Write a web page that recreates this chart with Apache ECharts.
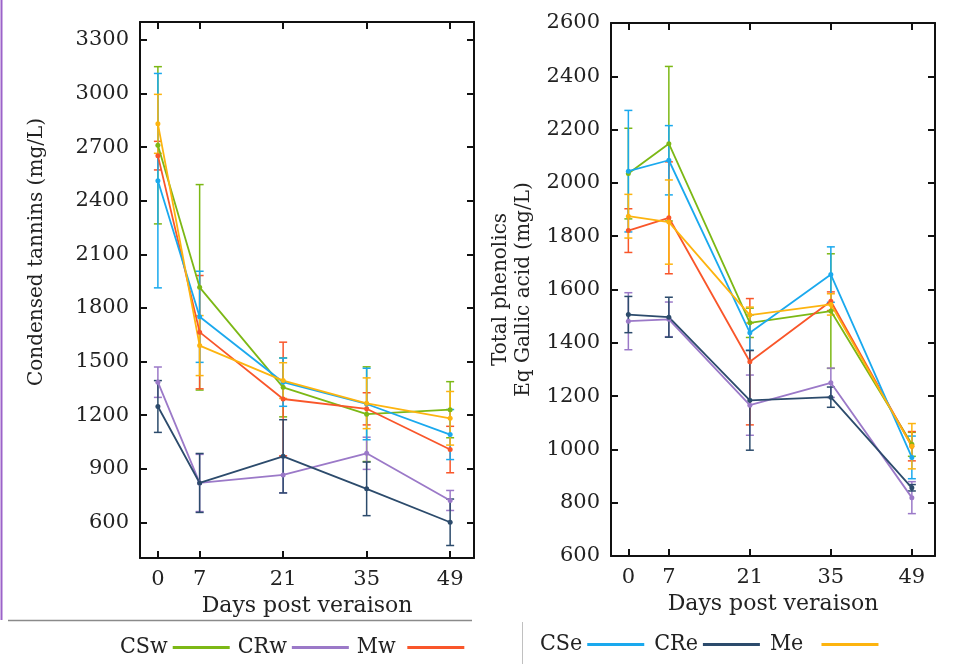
<!DOCTYPE html>
<html>
<head>
<meta charset="utf-8">
<script src="https://cdn.jsdelivr.net/npm/echarts@6/dist/echarts.min.js"></script>
<style>html,body{margin:0;padding:0;background:#fff;}#c{width:957px;height:664px;}</style>
</head>
<body>
<div id="c"></div>
<script>
// ---- data ----
const days = [0, 7, 21, 35, 49];
const seriesNames = ['CSw', 'CRw', 'Mw', 'CSe', 'CRe', 'Me'];
const colors = ['#7cb815', '#9b79c8', '#f9562a', '#1aa9ee', '#2c4b6c', '#fdb40f'];

// Condensed tannins (mg/L)
const tanCSw = [2710, 1915, 1355, 1205, 1230];
const tanCRw = [1384, 820, 865, 986, 722];
const tanMw  = [2652, 1664, 1290, 1235, 1007];
const tanCSe = [2512, 1750, 1384, 1262, 1091];
const tanCRe = [1248, 820, 969, 787, 600];
const tanMe  = [2830, 1589, 1393, 1266, 1182];
const tanErrCSw = [440, 575, 165, 265, 157];
const tanErrCRw = [85, 160, 100, 90, 56];
const tanErrMw  = [80, 317, 318, 90, 130];
const tanErrCSe = [600, 255, 135, 200, 140];
const tanErrCRe = [145, 165, 205, 150, 130];
const tanErrMe  = [165, 168, 100, 142, 150];

// Total phenolics, Eq Gallic acid (mg/L)
const phCSw = [2035, 2147, 1475, 1519, 1019];
const phCRw = [1481, 1488, 1166, 1250, 819];
const phMw  = [1821, 1869, 1329, 1556, 1012];
const phCSe = [2044, 2085, 1438, 1656, 970];
const phCRe = [1506, 1496, 1184, 1196, 856];
const phMe  = [1875, 1853, 1504, 1544, 1012];
const phErrCSw = [170, 290, 55, 215, 45];
const phErrCRw = [107, 65, 113, 55, 60];
const phErrMw  = [82, 210, 237, 35, 55];
const phErrCSe = [228, 130, 66, 104, 80];
const phErrCRe = [68, 75, 187, 38, 12];
const phErrMe  = [82, 158, 30, 40, 85];

const tanTicks = [600, 900, 1200, 1500, 1800, 2100, 2400, 2700, 3000, 3300];
const phTicks = [600, 800, 1000, 1200, 1400, 1600, 1800, 2000, 2200, 2400, 2600];

const tanVals = [tanCSw, tanCRw, tanMw, tanCSe, tanCRe, tanMe];
const tanErrs = [tanErrCSw, tanErrCRw, tanErrMw, tanErrCSe, tanErrCRe, tanErrMe];
const phVals = [phCSw, phCRw, phMw, phCSe, phCRe, phMe];
const phErrs = [phErrCSw, phErrCRw, phErrMw, phErrCSe, phErrCRe, phErrMe];

// ---- chart ----
const FONT = 'DejaVu Serif';
const chart = echarts.init(document.getElementById('c'));

function errRender(params, api) {
  const x = api.value(0), v = api.value(1), e = api.value(2);
  const hi = api.coord([x, v + e]);
  const lo = api.coord([x, v - e]);
  const c = api.visual('color');
  const w = 4;
  const st = { stroke: c, lineWidth: 1.5 };
  return {
    type: 'group',
    children: [
      { type: 'line', shape: { x1: hi[0], y1: hi[1], x2: lo[0], y2: lo[1] }, style: st },
      { type: 'line', shape: { x1: hi[0] - w, y1: hi[1], x2: hi[0] + w, y2: hi[1] }, style: st },
      { type: 'line', shape: { x1: lo[0] - w, y1: lo[1], x2: lo[0] + w, y2: lo[1] }, style: st }
    ]
  };
}

const plain = v => String(v);

function xAx(grid, pos, showLabel, name) {
  return {
    type: 'value', gridIndex: grid, position: pos, min: -3, max: 53,
    name: name || '', nameLocation: 'middle', nameGap: 37,
    nameTextStyle: { fontFamily: FONT, fontSize: 22, color: '#222' },
    axisLine: { show: true, onZero: false, lineStyle: { color: '#111', width: 2 } },
    axisTick: { show: true, inside: true, length: 7, lineStyle: { color: '#111', width: 2 }, customValues: days },
    axisLabel: { show: showLabel, margin: 11, fontFamily: FONT, fontSize: 21, color: '#222', customValues: days, formatter: plain },
    splitLine: { show: false }
  };
}
function yAx(grid, pos, showLabel, min, max, ticks, name, gap, pad) {
  return {
    type: 'value', gridIndex: grid, position: pos, min: min, max: max,
    name: name || '', nameLocation: 'middle', nameGap: gap || 0, nameRotate: 90,
    nameTextStyle: { fontFamily: FONT, fontSize: 20, color: '#222', lineHeight: 23, padding: pad || 0 },
    axisLine: { show: true, onZero: false, lineStyle: { color: '#111', width: 2 } },
    axisTick: { show: true, inside: true, length: 7, lineStyle: { color: '#111', width: 2 }, customValues: ticks },
    axisLabel: { show: showLabel, margin: 11, fontFamily: FONT, fontSize: 21, color: '#222', customValues: ticks, formatter: plain },
    splitLine: { show: false }
  };
}

const series = [];
function addPanel(vals, errs, xi, yi) {
  seriesNames.forEach((n, k) => {
    series.push({
      name: n, type: 'custom', xAxisIndex: xi, yAxisIndex: yi,
      itemStyle: { color: colors[k] }, z: 2, renderItem: errRender,
      data: days.map((d, i) => [d, vals[k][i], errs[k][i]])
    });
  });
  seriesNames.forEach((n, k) => {
    series.push({
      name: n, type: 'line', xAxisIndex: xi, yAxisIndex: yi,
      symbol: 'circle', symbolSize: 5, z: 3,
      itemStyle: { color: colors[k] }, lineStyle: { color: colors[k], width: 1.8 },
      data: days.map((d, i) => [d, vals[k][i]])
    });
  });
}
addPanel(tanVals, tanErrs, 0, 0);
addPanel(phVals, phErrs, 2, 2);

const legendText = { fontFamily: 'DejaVu Serif Condensed, Liberation Serif, serif', fontSize: 23, color: '#222' };
const legendFmtL = n => n === 'Mw' ? n + ' ' : n;
const legendFmtR = n => n === 'Me' ? n + '  ' : n;

chart.setOption({
  animation: false,
  backgroundColor: '#fff',
  grid: [
    { left: 140, right: 483, top: 22, bottom: 106 },
    { left: 611, right: 22, top: 23, bottom: 108 }
  ],
  xAxis: [
    xAx(0, 'bottom', true, 'Days post veraison'),
    xAx(0, 'top', false),
    xAx(1, 'bottom', true, 'Days post veraison'),
    xAx(1, 'top', false)
  ],
  yAxis: [
    yAx(0, 'left', true, 400, 3400, tanTicks, 'Condensed tannins (mg/L)', 92, [0, 0, 0, 76]),
    yAx(0, 'right', false, 400, 3400, tanTicks),
    yAx(1, 'left', true, 600, 2600, phTicks, 'Total phenolics\nEq Gallic acid (mg/L)', 76),
    yAx(1, 'right', false, 600, 2600, phTicks)
  ],
  legend: [
    { data: ['CSw', 'CRw', 'Mw'], left: 115, top: 631, align: 'right', icon: 'rect', itemWidth: 57, itemHeight: 3, itemGap: 8, formatter: legendFmtL, textStyle: legendText },
    { data: ['CSe', 'CRe', 'Me'], left: 535, top: 628, align: 'right', icon: 'rect', itemWidth: 57, itemHeight: 3, itemGap: 10, formatter: legendFmtR, textStyle: legendText }
  ],
  graphic: [
    { type: 'line', shape: { x1: 1.5, y1: 0, x2: 1.5, y2: 620 }, style: { stroke: '#9b63c9', lineWidth: 2 } },
    { type: 'line', shape: { x1: 8, y1: 620.5, x2: 472, y2: 620.5 }, style: { stroke: '#8a8a8a', lineWidth: 1.5 } },
    { type: 'line', shape: { x1: 522.5, y1: 622, x2: 522.5, y2: 664 }, style: { stroke: '#c0c0c0', lineWidth: 1 } }
  ],
  series: series
});
</script>
</body>
</html>
